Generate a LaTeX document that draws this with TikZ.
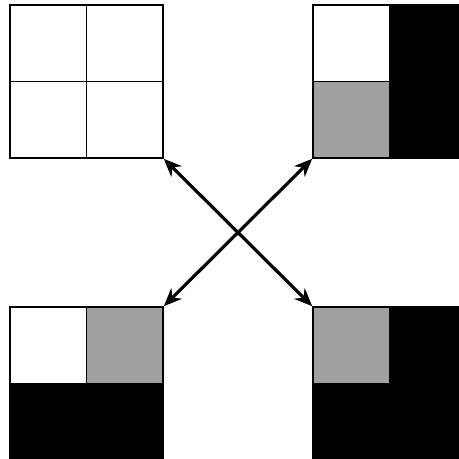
\documentclass[tikz,border=0pt]{standalone}
\definecolor{cellgray}{HTML}{A0A0A0}
\usetikzlibrary{arrows.meta,positioning}

\begin{document}
\begin{tikzpicture}[x=1pt, y=-1pt,
  grid/.style={rectangle, draw, line width=1.6pt, minimum size=153pt, inner sep=0pt},
  cell/.style={draw, line width=1.5pt},
  arr/.style={{Stealth[length=18pt,width=15pt]}-{Stealth[length=18pt,width=15pt]}, line width=3.2pt}
]
  \useasboundingbox (0,0) rectangle (459,459);
  \clip (0,0) rectangle (459,459);
  % cells of the four grids
  \foreach \cx/\cy/\col in {10/5/white, 86.5/5/white, 10/81.5/white, 86.5/81.5/white,
      313/5/white, 389.5/5/black, 313/81.5/cellgray, 389.5/81.5/black,
      10/307/white, 86.5/307/cellgray, 10/383.5/black, 86.5/383.5/black,
      313/307/cellgray, 389.5/307/black, 313/383.5/black, 389.5/383.5/black}
    \draw[cell, fill=\col] (\cx,\cy) rectangle ++(76.5,76.5);
  \node[grid] (tl) at (86.5,81.5) {};
  \node[grid] (tr) at (389.5,81.5) {};
  \node[grid] (bl) at (86.5,383.5) {};
  \node[grid] (br) at (389.5,383.5) {};
  \draw[arr] (tl.south east) -- (br.north west);
  \draw[arr] (tr.south west) -- (bl.north east);
\end{tikzpicture}
\end{document}
